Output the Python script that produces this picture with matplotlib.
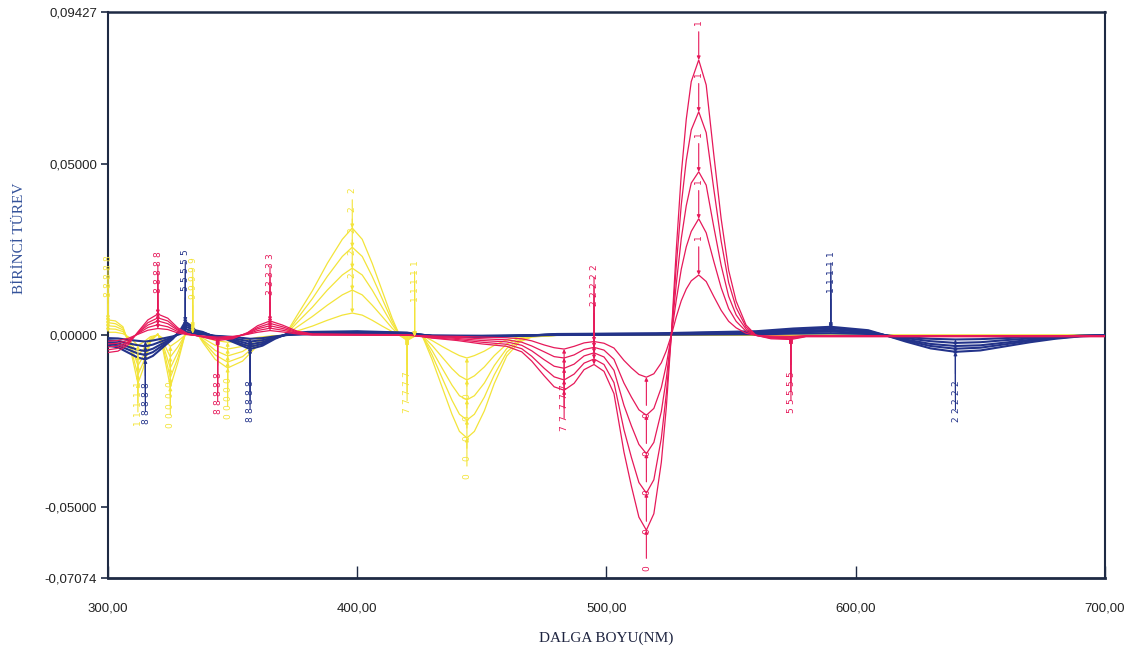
import numpy as np
import matplotlib
matplotlib.use("Agg")
import matplotlib.pyplot as plt

# wavelength grids (nm) and first-derivative values for each concentration
red_wl = [300, 304, 308, 312, 316, 320, 324, 328, 332, 338,
          344, 350, 356, 360, 365, 370, 376, 382, 400, 420,
          430, 440, 450, 460, 466, 470, 475, 479, 483, 487,
          491, 495, 499, 503, 507, 510, 513, 516, 519, 522,
          524, 526, 528, 530, 532, 534, 537, 540, 543, 546,
          549, 552, 556, 560, 566, 574, 580, 600, 700]
red_0 = [-0.0017, -0.0015, -0.0009, 0.0003, 0.0015, 0.0020, 0.0017, 0.0007, 0.0002, -0.0002,
         -0.0005, -0.0003, 0.0003, 0.0009, 0.0014, 0.0010, 0.0004, 0.0001,
         0.0001, 0.0000, -0.0002, -0.0003, -0.0005, -0.0007, -0.0010, -0.0016, -0.0028, -0.0036,
         -0.0040, -0.0032, -0.0022, -0.0018, -0.0023, -0.0037, -0.0073, -0.0095, -0.0114, -0.0122,
         -0.0112, -0.0080, -0.0045, 0.0000, 0.0054, 0.0101, 0.0135, 0.0159, 0.0176, 0.0157,
         0.0114, 0.0073, 0.0041, 0.0022, 0.0006, 0.0000, -0.0002, -0.0003, -0.0001, -0.0001, -0.0001]
red_1 = [-0.0025, -0.0023, -0.0014, 0.0005, 0.0023, 0.0031, 0.0025, 0.0011, 0.0003, -0.0003,
         -0.0008, -0.0005, 0.0004, 0.0014, 0.0021, 0.0015, 0.0006, 0.0002,
         0.0001, 0.0001, -0.0003, -0.0006, -0.0010, -0.0013, -0.0020, -0.0031, -0.0048, -0.0062,
         -0.0066, -0.0057, -0.0041, -0.0035, -0.0043, -0.0070, -0.0139, -0.0180, -0.0217, -0.0233,
         -0.0213, -0.0152, -0.0086, 0.0000, 0.0103, 0.0193, 0.0258, 0.0303, 0.0340, 0.0299,
         0.0217, 0.0139, 0.0078, 0.0041, 0.0012, 0.0000, -0.0004, -0.0005, -0.0002, -0.0002, -0.0002]
red_2 = [-0.0034, -0.0031, -0.0019, 0.0007, 0.0030, 0.0042, 0.0034, 0.0015, 0.0003, -0.0003,
         -0.0010, -0.0007, 0.0005, 0.0019, 0.0028, 0.0020, 0.0008, 0.0003,
         0.0002, 0.0001, -0.0005, -0.0009, -0.0015, -0.0019, -0.0029, -0.0045, -0.0071, -0.0090,
         -0.0096, -0.0084, -0.0060, -0.0051, -0.0063, -0.0102, -0.0204, -0.0264, -0.0318, -0.0345,
         -0.0312, -0.0222, -0.0126, 0.0000, 0.0150, 0.0282, 0.0378, 0.0444, 0.0477, 0.0438,
         0.0318, 0.0204, 0.0114, 0.0060, 0.0018, 0.0000, -0.0006, -0.0007, -0.0002, -0.0002, -0.0002]
red_3 = [-0.0042, -0.0038, -0.0023, 0.0008, 0.0037, 0.0051, 0.0042, 0.0018, 0.0004, -0.0004,
         -0.0012, -0.0008, 0.0007, 0.0023, 0.0035, 0.0025, 0.0010, 0.0003,
         0.0002, 0.0002, -0.0007, -0.0012, -0.0020, -0.0026, -0.0039, -0.0061, -0.0096, -0.0121,
         -0.0130, -0.0113, -0.0081, -0.0069, -0.0085, -0.0138, -0.0275, -0.0356, -0.0429, -0.0460,
         -0.0421, -0.0300, -0.0170, 0.0000, 0.0203, 0.0381, 0.0510, 0.0599, 0.0652, 0.0591,
         0.0429, 0.0275, 0.0154, 0.0081, 0.0024, 0.0000, -0.0008, -0.0010, -0.0003, -0.0003, -0.0003]
red_4 = [-0.0050, -0.0046, -0.0028, 0.0010, 0.0045, 0.0062, 0.0050, 0.0022, 0.0005, -0.0005,
         -0.0015, -0.0010, 0.0008, 0.0028, 0.0042, 0.0030, 0.0012, 0.0004,
         0.0003, 0.0002, -0.0008, -0.0015, -0.0025, -0.0032, -0.0048, -0.0075, -0.0118, -0.0150,
         -0.0160, -0.0140, -0.0100, -0.0085, -0.0105, -0.0170, -0.0340, -0.0440, -0.0530, -0.0568,
         -0.0520, -0.0370, -0.0210, 0.0000, 0.0250, 0.0470, 0.0630, 0.0740, 0.0803, 0.0730,
         0.0530, 0.0340, 0.0190, 0.0100, 0.0030, 0.0000, -0.0010, -0.0012, -0.0004, -0.0004, -0.0004]

yel_wl = [300, 303, 306, 309, 312, 314, 317, 320, 322, 325,
          328, 331, 334, 338, 343, 348, 354, 360, 366, 371,
          376, 382, 388, 394, 398, 402, 406, 410, 414, 417,
          420, 423, 426, 430, 434, 438, 441, 444, 447, 451,
          455, 460, 465, 470, 480, 500, 700]
yel_0 = [0.0009, 0.0009, 0.0005, -0.0008, -0.0029, -0.0021, -0.0004, 0.0001, -0.0008, -0.0032,
         -0.0017, 0.0001, 0.0005, -0.0004, -0.0015, -0.0020, -0.0016, -0.0006, -0.0001, 0.0000,
         0.0013, 0.0027, 0.0044, 0.0059, 0.0065, 0.0059, 0.0044, 0.0027, 0.0011, 0.0000,
         -0.0003, -0.0001, 0.0000, -0.0015, -0.0032, -0.0048, -0.0059, -0.0066, -0.0059, -0.0046,
         -0.0029, -0.0013, -0.0004, -0.0001, 0.0000, 0.0000, 0.0000]
yel_1 = [0.0019, 0.0018, 0.0011, -0.0017, -0.0059, -0.0042, -0.0008, 0.0002, -0.0017, -0.0063,
         -0.0034, 0.0002, 0.0011, -0.0008, -0.0029, -0.0040, -0.0032, -0.0013, -0.0002, 0.0000,
         0.0025, 0.0055, 0.0088, 0.0118, 0.0132, 0.0118, 0.0088, 0.0055, 0.0021, 0.0000,
         -0.0006, -0.0001, 0.0000, -0.0029, -0.0063, -0.0097, -0.0118, -0.0130, -0.0118, -0.0092,
         -0.0059, -0.0025, -0.0008, -0.0002, 0.0000, 0.0000, 0.0000]
yel_2 = [0.0028, 0.0026, 0.0016, -0.0025, -0.0088, -0.0063, -0.0013, 0.0003, -0.0025, -0.0095,
         -0.0050, 0.0003, 0.0016, -0.0013, -0.0044, -0.0060, -0.0047, -0.0019, -0.0003, 0.0000,
         0.0038, 0.0082, 0.0132, 0.0176, 0.0196, 0.0176, 0.0132, 0.0082, 0.0032, 0.0000,
         -0.0009, -0.0002, 0.0000, -0.0044, -0.0095, -0.0145, -0.0176, -0.0188, -0.0176, -0.0139,
         -0.0088, -0.0038, -0.0013, -0.0003, 0.0000, 0.0000, 0.0000]
yel_3 = [0.0037, 0.0034, 0.0021, -0.0033, -0.0115, -0.0082, -0.0016, 0.0004, -0.0033, -0.0123,
         -0.0066, 0.0004, 0.0021, -0.0016, -0.0057, -0.0078, -0.0062, -0.0025, -0.0004, 0.0000,
         0.0049, 0.0107, 0.0172, 0.0230, 0.0257, 0.0230, 0.0172, 0.0107, 0.0041, 0.0000,
         -0.0012, -0.0002, 0.0000, -0.0057, -0.0123, -0.0189, -0.0230, -0.0247, -0.0230, -0.0180,
         -0.0115, -0.0049, -0.0016, -0.0004, 0.0000, 0.0000, 0.0000]
yel_4 = [0.0045, 0.0042, 0.0025, -0.0040, -0.0140, -0.0100, -0.0020, 0.0005, -0.0040, -0.0150,
         -0.0080, 0.0005, 0.0025, -0.0020, -0.0070, -0.0095, -0.0075, -0.0030, -0.0005, 0.0000,
         0.0060, 0.0130, 0.0210, 0.0280, 0.0313, 0.0280, 0.0210, 0.0130, 0.0050, 0.0000,
         -0.0015, -0.0003, 0.0000, -0.0070, -0.0150, -0.0230, -0.0280, -0.0299, -0.0280, -0.0220,
         -0.0140, -0.0060, -0.0020, -0.0005, 0.0000, 0.0000, 0.0000]

blue_wl = [300, 304, 308, 312, 315, 318, 322, 326, 329, 331,
           333, 335, 338, 342, 347, 352, 357, 362, 367, 372,
           380, 400, 420, 430, 450, 470, 480, 520, 560, 575,
           590, 605, 612, 620, 630, 640, 650, 660, 670, 680,
           690, 700]
blue_0 = [-0.0008, -0.0009, -0.0013, -0.0016, -0.0018, -0.0015, -0.0009, -0.0003, 0.0004, 0.0010,
          0.0008, 0.0004, 0.0003, -0.0001, -0.0003, -0.0006, -0.0010, -0.0008, -0.0003, 0.0001,
          0.0003, 0.0003, 0.0002, -0.0001, -0.0001, 0.0000, 0.0001, 0.0002, 0.0003, 0.0005,
          0.0006, 0.0004, 0.0000, -0.0005, -0.0010, -0.0012, -0.0011, -0.0008, -0.0005, -0.0003,
          -0.0001, 0.0000]
blue_1 = [-0.0014, -0.0016, -0.0023, -0.0029, -0.0032, -0.0027, -0.0016, -0.0005, 0.0007, 0.0018,
          0.0014, 0.0007, 0.0005, -0.0001, -0.0005, -0.0011, -0.0018, -0.0014, -0.0005, 0.0002,
          0.0005, 0.0005, 0.0004, -0.0001, -0.0002, 0.0000, 0.0002, 0.0003, 0.0005, 0.0009,
          0.0011, 0.0007, 0.0000, -0.0008, -0.0017, -0.0022, -0.0020, -0.0014, -0.0009, -0.0005,
          -0.0001, 0.0000]
blue_2 = [-0.0020, -0.0023, -0.0033, -0.0042, -0.0046, -0.0039, -0.0023, -0.0007, 0.0010, 0.0026,
          0.0020, 0.0010, 0.0007, -0.0001, -0.0007, -0.0016, -0.0026, -0.0020, -0.0007, 0.0003,
          0.0007, 0.0008, 0.0005, -0.0001, -0.0003, 0.0000, 0.0003, 0.0004, 0.0008, 0.0013,
          0.0016, 0.0010, 0.0000, -0.0012, -0.0025, -0.0031, -0.0029, -0.0021, -0.0013, -0.0007,
          -0.0002, 0.0000]
blue_3 = [-0.0025, -0.0029, -0.0041, -0.0053, -0.0057, -0.0049, -0.0029, -0.0008, 0.0012, 0.0033,
          0.0025, 0.0012, 0.0008, -0.0002, -0.0008, -0.0021, -0.0033, -0.0025, -0.0008, 0.0004,
          0.0008, 0.0010, 0.0007, -0.0002, -0.0004, 0.0000, 0.0003, 0.0005, 0.0010, 0.0016,
          0.0021, 0.0012, 0.0000, -0.0015, -0.0031, -0.0039, -0.0036, -0.0026, -0.0016, -0.0008,
          -0.0002, 0.0000]
blue_4 = [-0.0030, -0.0035, -0.0050, -0.0065, -0.0070, -0.0060, -0.0035, -0.0010, 0.0015, 0.0040,
          0.0030, 0.0015, 0.0010, -0.0002, -0.0010, -0.0025, -0.0040, -0.0030, -0.0010, 0.0005,
          0.0010, 0.0012, 0.0008, -0.0002, -0.0005, 0.0000, 0.0004, 0.0006, 0.0012, 0.0020,
          0.0025, 0.0015, 0.0000, -0.0018, -0.0038, -0.0048, -0.0044, -0.0032, -0.0020, -0.0010,
          -0.0003, 0.0000]

# peak / trough markers: (from nm, to nm, kind, label)
red_marks = [(532, 542, "max", "1"), (510, 522, "min", "0"), (491, 499, "max", "2"),
             (479, 487, "min", "7"), (316, 324, "max", "8"), (360, 370, "max", "3"),
             (340, 350, "min", "8"), (566, 578, "min", "5")]
yel_marks = [(396, 400, "max", "2"), (441, 447, "min", "0"), (309, 314, "min", "1"),
             (322, 328, "min", "0"), (330, 336, "max", "9"), (343, 354, "min", "0"),
             (300, 304, "max", "8"), (418, 422, "min", "7"), (422, 424, "max", "1")]
blue_marks = [(312, 318, "min", "8"), (329, 335, "max", "5"), (352, 362, "min", "8"),
              (585, 595, "max", "1"), (635, 645, "min", "2")]

y_ticks = [0.09427, 0.05, 0.0, -0.05, -0.07074]
y_tick_labels = ["0,09427", "0,05000", "0,00000", "-0,05000", "-0,07074"]
x_ticks = [300, 400, 500, 600, 700]
x_tick_labels = ["300,00", "400,00", "500,00", "600,00", "700,00"]

RED = "#e6195a"
YELLOW = "#f3e43a"
BLUE = "#23338a"
DPI = 100


def put_marks(ax, wl, curves, color, marks, gap=38):
    # labels sit ~gap px beyond each extremum; labels of one feature are
    # pushed apart so they stack into a column instead of piling up
    wl = np.asarray(wl)
    for lo, hi, kind, txt in marks:
        sel = (wl >= lo) & (wl <= hi)
        sign = 1 if kind == "max" else -1
        last = None
        for vals in curves:
            v = np.asarray(vals)[sel]
            w = wl[sel]
            i = np.argmax(v) if kind == "max" else np.argmin(v)
            py = ax.transData.transform((w[i], v[i]))[1]
            ly = py + sign * gap
            if last is not None and sign * (ly - last) < 9:
                ly = last + sign * 9
            last = ly
            dy = (ly - py) * 72.0 / DPI
            ax.annotate(txt, xy=(w[i], v[i]), xytext=(0, dy), textcoords="offset points",
                        rotation=90, ha="center", va="center", fontsize=6.5, color=color,
                        arrowprops=dict(arrowstyle="-|>", color=color, lw=0.8,
                                        mutation_scale=5, shrinkA=3, shrinkB=0),
                        annotation_clip=False, zorder=5)


fig = plt.figure(figsize=(11.38, 6.61), dpi=DPI)
ax = fig.add_axes([0.0949, 0.1256, 0.8761, 0.8562])
ax.set_xlim(300, 700)
ax.set_ylim(-0.07074, 0.09427)

red = [red_0, red_1, red_2, red_3, red_4]
yel = [yel_0, yel_1, yel_2, yel_3, yel_4]
blue = [blue_0, blue_1, blue_2, blue_3, blue_4]

for c in yel:
    ax.plot(yel_wl, c, color=YELLOW, lw=0.9, zorder=2)
for c in blue:
    ax.plot(blue_wl, c, color=BLUE, lw=1.5, zorder=3)
for c in red:
    ax.plot(red_wl, c, color=RED, lw=0.9, zorder=4)

put_marks(ax, yel_wl, yel, YELLOW, yel_marks)
put_marks(ax, blue_wl, blue, BLUE, blue_marks, gap=44)
put_marks(ax, red_wl, red, RED, red_marks)

ax.set_yticks(y_ticks)
ax.set_yticklabels(y_tick_labels, fontsize=9.5, family="Liberation Sans", color="#222222")
ax.set_xticks(x_ticks)
ax.set_xticklabels(x_tick_labels, fontsize=9.5, family="Liberation Sans", color="#222222")
ax.tick_params(axis="y", direction="out", length=5, width=1.2, color="#1e2a44", pad=3)
ax.tick_params(axis="x", direction="in", length=9, width=1.0, color="#1e2a44", pad=18)

for side in ["left", "right", "top", "bottom"]:
    ax.spines[side].set_color("#1e2a44")
    ax.spines[side].set_linewidth(1.5)
ax.spines["bottom"].set_linewidth(2.0)
ax.spines["top"].set_linewidth(1.8)

ax.set_ylabel("BİRİNCİ TÜREV", family="Liberation Serif", fontsize=11,
              color="#34529a")
ax.yaxis.set_label_coords(-0.082, 0.60)
ax.set_xlabel("DALGA BOYU(NM)", family="Liberation Serif", fontsize=11,
              color="#1e2440", labelpad=12)

fig.savefig("out.png", dpi=DPI)
